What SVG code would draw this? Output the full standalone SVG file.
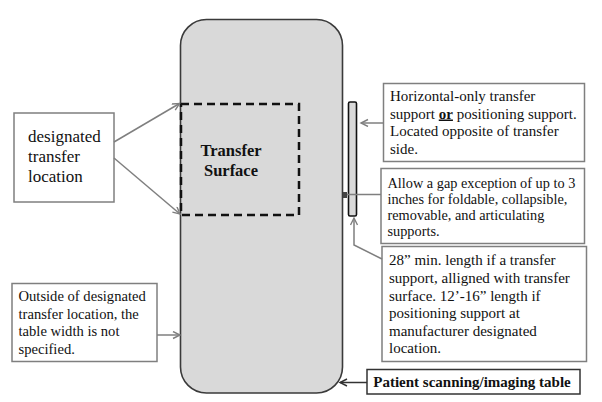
<svg xmlns="http://www.w3.org/2000/svg" width="602" height="402" viewBox="0 0 602 402" font-family="'Liberation Serif', 'Times New Roman', 'DejaVu Serif', serif">
<defs>
<style>
text{font-family:'Liberation Serif','Times New Roman','DejaVu Serif',serif;font-size:15px;fill:#111}
.box{fill:#fff;stroke:#7f7f7f;stroke-width:1.5}
.con{fill:none;stroke:#7f7f7f;stroke-width:1.5}
.b{font-weight:bold}
.s{font-size:14.3px}
</style>
<marker id="ah" markerWidth="10" markerHeight="10" refX="8" refY="4" orient="auto" markerUnits="userSpaceOnUse">
<path d="M1,0.5 L8,4 L1,7.5" fill="none" stroke="#7f7f7f" stroke-width="1.4"/>
</marker>
<marker id="ahd" markerWidth="10" markerHeight="10" refX="8" refY="4" orient="auto" markerUnits="userSpaceOnUse">
<path d="M1,0.5 L8,4 L1,7.5" fill="none" stroke="#333" stroke-width="1.4"/>
</marker>
</defs>
<rect width="602" height="402" fill="#fff"/>
<g id="table">
<rect x="180.5" y="19.5" width="162" height="373.5" rx="26" fill="#d9d9d9" stroke="#3a3a3a" stroke-width="1.6"/>
</g>
<g id="transfer-surface">
<rect x="181" y="104" width="118" height="111" fill="none" stroke="#111" stroke-width="2.5" stroke-dasharray="8,5"/>
<text class="b" x="231" y="156" text-anchor="middle" style="font-size:16.5px">Transfer</text>
<text class="b" x="231" y="176" text-anchor="middle" style="font-size:16.5px">Surface</text>
</g>
<g id="support-bar">
<rect x="348.5" y="102" width="8" height="114" rx="1.5" fill="#d9d9d9" stroke="#111" stroke-width="1.6"/>
</g>
<g id="designated-box">
<rect class="box" x="14" y="113" width="100" height="89"/>
<text x="28" y="142" style="font-size:17px">designated</text>
<text x="28" y="162" style="font-size:17px">transfer</text>
<text x="28" y="182" style="font-size:17px">location</text>
</g>
<g id="outside-box">
<rect class="box" x="12" y="283.5" width="145" height="78"/>
<text x="18.5" y="301" style="font-size:14.6px">Outside of designated</text>
<text x="18.5" y="318.5" style="font-size:14.6px">transfer location, the</text>
<text x="18.5" y="336" style="font-size:14.6px">table width is not</text>
<text x="18.5" y="353.5" style="font-size:14.6px">specified.</text>
</g>
<g id="horizontal-box">
<rect class="box" x="383.5" y="83.5" width="201" height="78"/>
<text x="390" y="101">Horizontal-only transfer</text>
<text x="390" y="118.5">support <tspan class="b" text-decoration="underline">or</tspan> positioning support.</text>
<text x="390" y="136">Located opposite of transfer</text>
<text x="390" y="153.5">side.</text>
</g>
<g id="gap-box">
<rect class="box" x="381" y="168.5" width="203.5" height="75"/>
<text class="s" x="387.5" y="187.5">Allow a gap exception of up to 3</text>
<text class="s" x="387.5" y="203.5">inches for foldable, collapsible,</text>
<text class="s" x="387.5" y="220">removable, and articulating</text>
<text class="s" x="387.5" y="236">supports.</text>
</g>
<g id="length-box">
<rect class="box" x="382" y="246.5" width="204.5" height="115"/>
<text x="389" y="265">28” min. length if a transfer</text>
<text x="389" y="283">support, alligned with transfer</text>
<text x="389" y="300.5">surface. 12’-16” length if</text>
<text x="389" y="318">positioning support at</text>
<text x="389" y="335.5">manufacturer designated</text>
<text x="389" y="353">location.</text>
</g>
<g id="table-label">
<rect x="367" y="369.5" width="213" height="24.5" fill="#fff" stroke="#333" stroke-width="1.5"/>
<text class="b" x="472" y="387.3" text-anchor="middle">Patient scanning/imaging table</text>
</g>
<g id="connectors">
<line class="con" x1="114" y1="142" x2="179.5" y2="103.5" marker-end="url(#ah)"/>
<line class="con" x1="114" y1="158" x2="180" y2="214" marker-end="url(#ah)"/>
<line class="con" x1="157" y1="335" x2="180" y2="335" marker-end="url(#ah)"/>
<line class="con" x1="383.5" y1="123" x2="361" y2="123" marker-end="url(#ah)"/>
<line class="con" x1="381" y1="194.5" x2="346" y2="194.5"/>
<rect x="343" y="192" width="4" height="6" fill="#444"/>
<polyline class="con" points="382,259 354,245 354,218" marker-end="url(#ah)"/>
<line x1="367" y1="382.5" x2="340" y2="382.5" stroke="#333" stroke-width="1.5" marker-end="url(#ahd)"/>
</g>
</svg>
